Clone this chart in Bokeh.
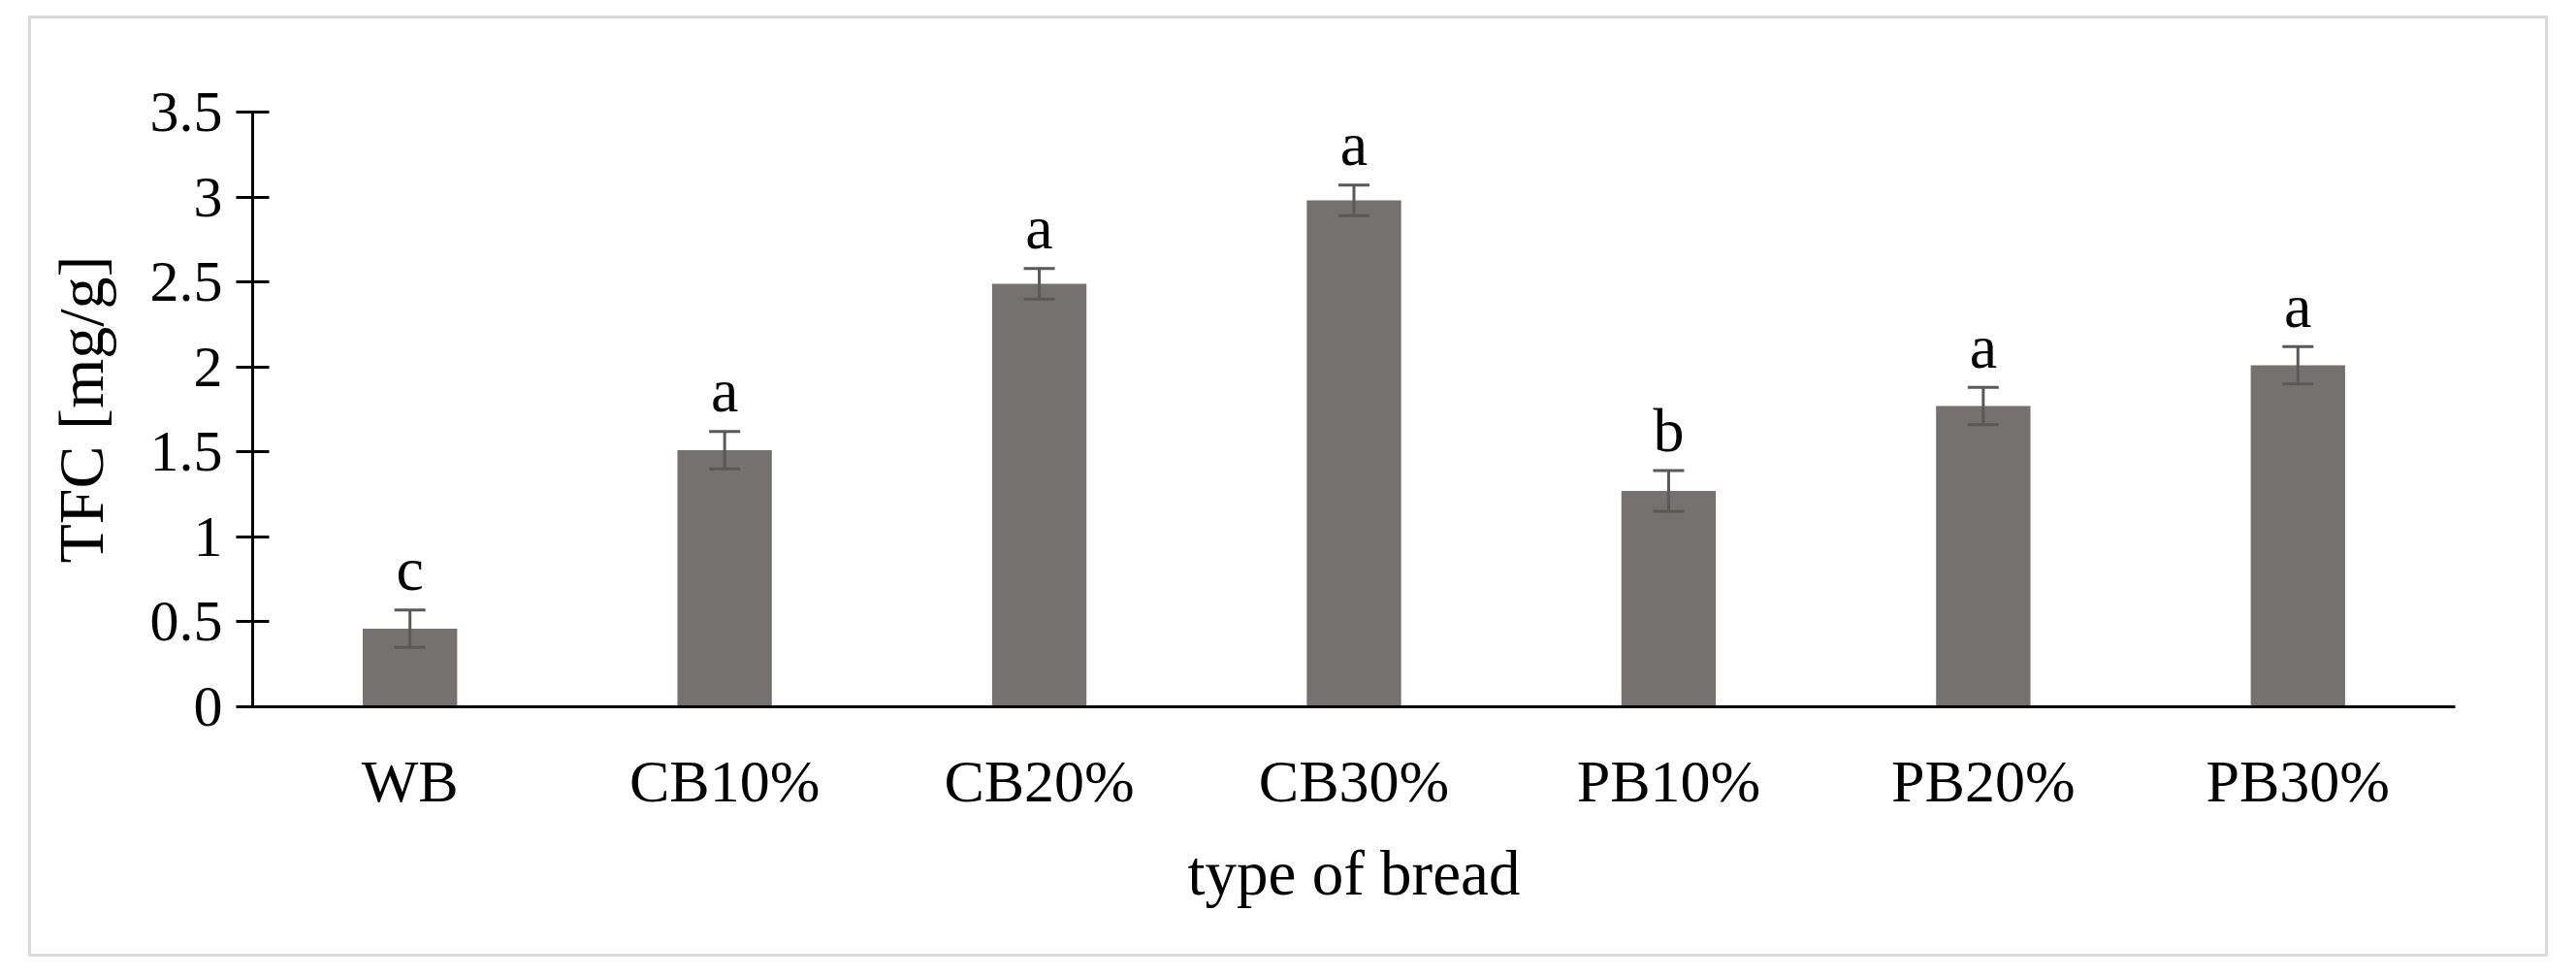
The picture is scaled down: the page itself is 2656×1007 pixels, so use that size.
from bokeh.plotting import figure
from bokeh.models import ColumnDataSource, Whisker, TeeHead, FactorRange, Range1d, FixedTicker
from bokeh.core.properties import value
from bokeh.embed import file_html
from bokeh.resources import INLINE

categories = ["WB", "CB10%", "CB20%", "CB30%", "PB10%", "PB20%", "PB30%"]
tfc = [0.46, 1.51, 2.49, 2.98, 1.27, 1.77, 2.01]
sd = [0.11, 0.11, 0.09, 0.09, 0.12, 0.11, 0.11]
letters = ["c", "a", "a", "a", "b", "a", "a"]
y_ticks = [0, 0.5, 1, 1.5, 2, 2.5, 3, 3.5]
y_tick_labels = ["0", "0.5", "1", "1.5", "2", "2.5", "3", "3.5"]

FONT = "Liberation Serif"
BAR = "#767171"
ERR = "#595959"

src = ColumnDataSource(dict(
    cat=categories,
    val=tfc,
    up=[v + e for v, e in zip(tfc, sd)],
    lo=[v - e for v, e in zip(tfc, sd)],
    letter=letters,
))

p = figure(width=2598, height=970, output_backend="svg", toolbar_location=None,
           x_range=FactorRange(*categories, range_padding=0),
           y_range=Range1d(0, 3.5),
           min_border_left=228, min_border_right=99, min_border_top=96, min_border_bottom=261,
           margin=(16, 0, 0, 29),
           styles={"border": "3px solid #d9d9d9"})
p.outline_line_color = None
p.grid.visible = False
p.background_fill_color = "white"
p.border_fill_color = "white"

p.vbar(x="cat", top="val", width=0.3, source=src, fill_color=BAR, line_color=None)

w = Whisker(base="cat", upper="up", lower="lo", source=src, line_color=ERR, line_width=3,
            upper_head=TeeHead(size=32, line_color=ERR, line_width=3),
            lower_head=TeeHead(size=32, line_color=ERR, line_width=3))
w.level = "overlay"
p.add_layout(w)

p.text(x="cat", y="up", text="letter", source=src, text_align="center", text_baseline="alphabetic",
       y_offset=-42, text_font=value(FONT), text_font_size="64px", text_color="black")

# axes
p.yaxis.ticker = FixedTicker(ticks=y_ticks)
p.yaxis.major_label_overrides = {t: l for t, l in zip(y_ticks, y_tick_labels)}
p.yaxis.minor_tick_line_color = None
p.yaxis.major_tick_in = 17
p.yaxis.major_tick_out = 17
p.yaxis.major_tick_line_width = 3
p.yaxis.major_tick_line_color = "black"
p.yaxis.axis_line_width = 3
p.yaxis.axis_line_color = "black"
p.yaxis.major_label_standoff = 14
p.yaxis.major_label_text_font = FONT
p.yaxis.major_label_text_font_size = "60px"
p.yaxis.major_label_text_color = "black"
p.yaxis.axis_label = "TFC [mg/g]"
p.yaxis.axis_label_text_font = FONT
p.yaxis.axis_label_text_font_size = "66px"
p.yaxis.axis_label_text_font_style = "normal"
p.yaxis.axis_label_text_color = "black"
p.yaxis.axis_label_standoff = 32

p.xaxis.major_tick_line_color = None
p.xaxis.minor_tick_line_color = None
p.xaxis.axis_line_width = 3
p.xaxis.axis_line_color = "black"
p.xaxis.major_label_standoff = 36
p.xaxis.major_label_text_font = FONT
p.xaxis.major_label_text_font_size = "62px"
p.xaxis.major_label_text_color = "black"
p.xaxis.axis_label = "type of bread"
p.xaxis.axis_label_text_font = FONT
p.xaxis.axis_label_text_font_size = "65px"
p.xaxis.axis_label_text_font_style = "normal"
p.xaxis.axis_label_text_color = "black"
p.xaxis.axis_label_standoff = 22

open("out.html", "w").write(file_html(p, INLINE))
